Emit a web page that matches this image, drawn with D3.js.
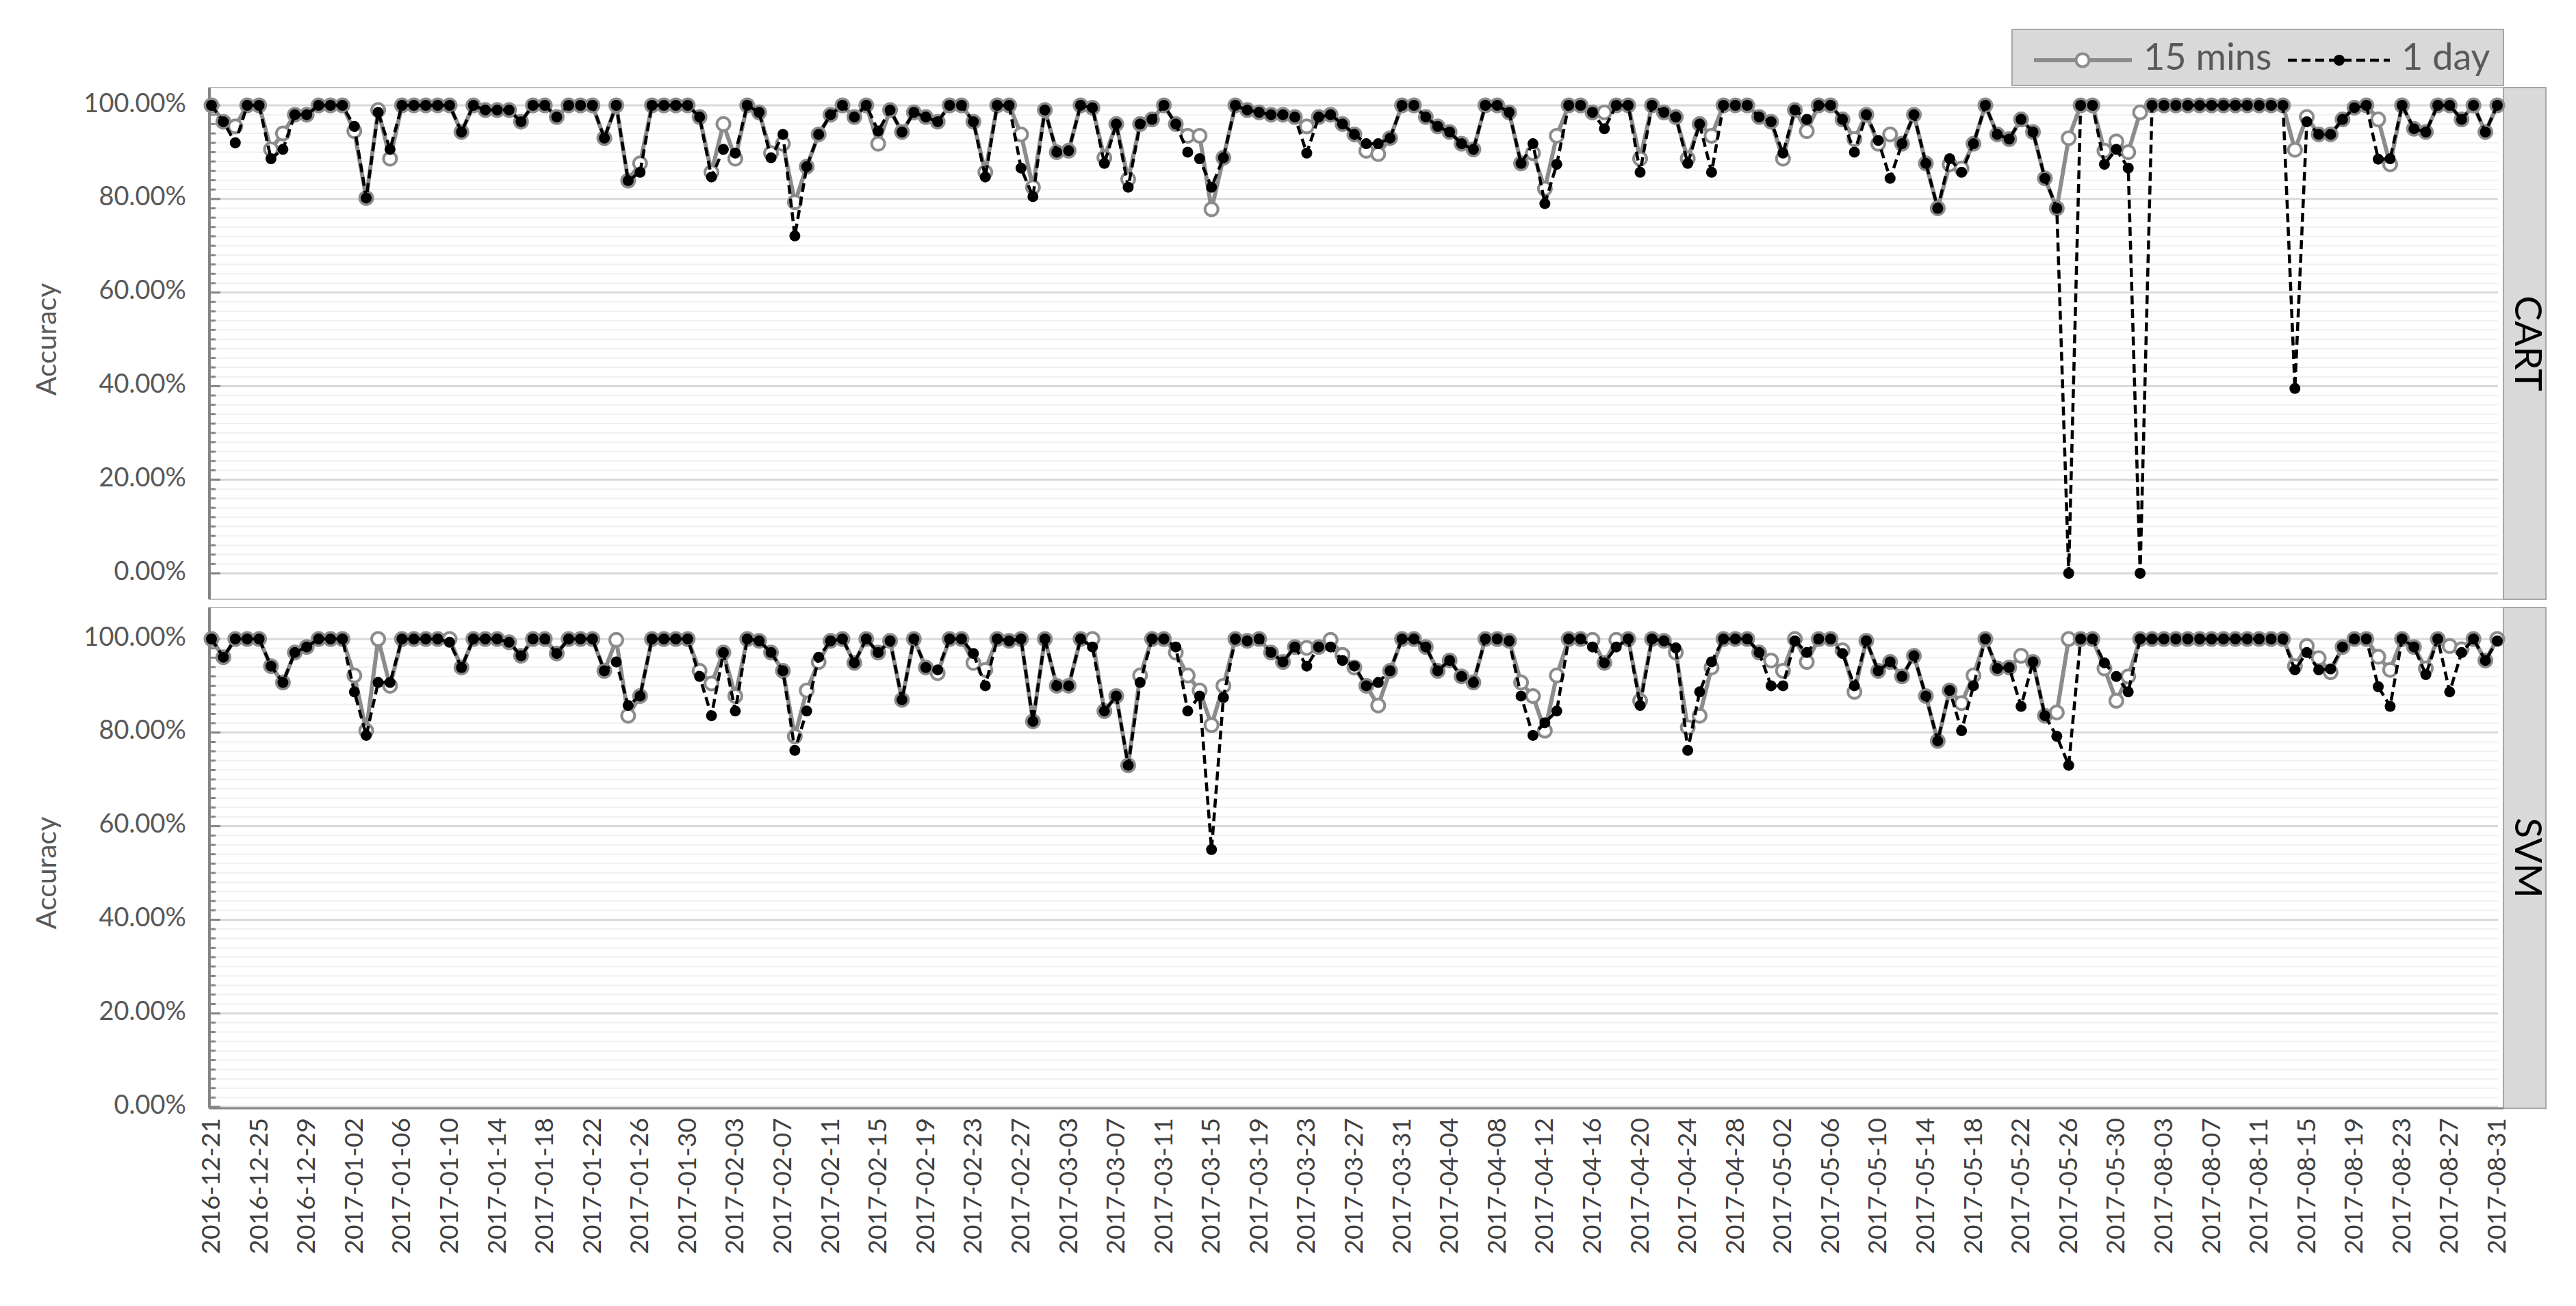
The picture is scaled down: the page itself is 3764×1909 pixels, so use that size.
<!DOCTYPE html>
<html>
<head>
<meta charset="utf-8">
<script src="https://cdn.jsdelivr.net/npm/d3@7"></script>
<style>
  body { margin: 0; background: #fff; }
  text { font-family: Lato, "Open Sans", sans-serif; }
</style>
</head>
<body>
<svg id="chart"></svg>
<script>
// categories: daily, with a gap between June and July
const fmt = d3.timeFormat("%Y-%m-%d");
const dates = d3.timeDay.range(new Date(2016, 11, 21), new Date(2017, 5, 1))
    .concat(d3.timeDay.range(new Date(2017, 7, 1), new Date(2017, 8, 1)))
    .map(fmt);

// accuracy in percent, one value per date
const cart15m = [
    100, 96.5, 95.5, 100, 100, 90.6, 94, 98, 98, 100,
    100, 100, 94.5, 80.2, 99, 88.6, 100, 100, 100, 100,
    100, 94.3, 100, 99, 99, 99, 96.5, 100, 100, 97.5,
    100, 100, 100, 93, 100, 83.9, 87.6, 100, 100, 100,
    100, 97.5, 85.7, 96, 88.6, 100, 98.5, 89.8, 91.8, 79.3,
    86.9, 93.8, 98, 100, 97.5, 100, 91.8, 99, 94.3, 98.5,
    97.5, 96.5, 100, 100, 96.5, 85.7, 100, 100, 93.8, 82.5,
    99, 90, 90.3, 100, 99.5, 88.8, 96, 84.2, 96, 97,
    100, 96, 93.5, 93.5, 77.8, 88.8, 100, 99, 98.5, 98,
    98, 97.5, 95.5, 97.5, 98, 96, 93.8, 90.3, 89.6, 93,
    100, 100, 97.5, 95.5, 94.3, 91.8, 90.6, 100, 100, 98.5,
    87.6, 89.8, 82.2, 93.5, 100, 100, 98.5, 98.5, 100, 100,
    88.6, 100, 98.5, 97.5, 88.6, 96, 93.5, 100, 100, 100,
    97.5, 96.5, 88.6, 99, 94.5, 100, 100, 97, 92.8, 98,
    91.8, 93.8, 91.8, 98, 87.6, 78, 87.4, 86.5, 91.8, 100,
    93.8, 92.8, 97, 94.3, 84.4, 78, 93, 100, 100, 90.3,
    92.3, 90, 98.5, 100, 100, 100, 100, 100, 100, 100,
    100, 100, 100, 100, 100, 90.5, 97.5, 93.8, 93.8, 97,
    99.5, 100, 97, 87.4, 100, 95, 94.3, 100, 100, 97,
    100, 94.3, 100
];
const cart1d = [
    100, 96.5, 92, 100, 100, 88.6, 90.6, 98, 98, 100,
    100, 100, 95.5, 80.2, 98.5, 90.6, 100, 100, 100, 100,
    100, 94.3, 100, 99, 99, 99, 96.5, 100, 100, 97.5,
    100, 100, 100, 93, 100, 83.9, 85.7, 100, 100, 100,
    100, 97.5, 84.7, 90.6, 89.8, 100, 98.5, 88.8, 93.8, 72.1,
    86.9, 93.8, 98, 100, 97.5, 100, 94.5, 99, 94.3, 98.5,
    97.5, 96.5, 100, 100, 96.5, 84.7, 100, 100, 86.6, 80.5,
    99, 90, 90.3, 100, 99.5, 87.6, 96, 82.5, 96, 97,
    100, 96, 90, 88.6, 82.5, 88.8, 100, 99, 98.5, 98,
    98, 97.5, 89.8, 97.5, 98, 96, 93.8, 91.8, 91.8, 93,
    100, 100, 97.5, 95.5, 94.3, 91.8, 90.6, 100, 100, 98.5,
    87.6, 91.8, 79, 87.4, 100, 100, 98.5, 95, 100, 100,
    85.7, 100, 98.5, 97.5, 87.6, 96, 85.7, 100, 100, 100,
    97.5, 96.5, 89.8, 99, 97, 100, 100, 97, 90, 98,
    92.5, 84.4, 91.8, 98, 87.6, 78, 88.6, 85.7, 91.8, 100,
    93.8, 92.8, 97, 94.3, 84.4, 78, 0, 100, 100, 87.4,
    90.6, 86.6, 0, 100, 100, 100, 100, 100, 100, 100,
    100, 100, 100, 100, 100, 39.5, 96.5, 93.8, 93.8, 97,
    99.5, 100, 88.5, 88.6, 100, 95, 94.3, 100, 100, 97,
    100, 94.3, 100
];
const svm15m = [
    100, 96.1, 100, 100, 100, 94.2, 90.7, 97.1, 98.3, 100,
    100, 100, 92.2, 80.4, 100, 90, 100, 100, 100, 100,
    100, 93.9, 100, 100, 100, 99.3, 96.4, 100, 100, 96.9,
    100, 100, 100, 93.2, 99.8, 83.6, 87.8, 100, 100, 100,
    100, 93.2, 90.5, 97.1, 87.8, 100, 99.6, 97.1, 93.2, 79.2,
    89, 95.1, 99.6, 100, 94.9, 100, 97.1, 99.6, 87, 100,
    93.9, 92.7, 100, 100, 94.9, 93.4, 100, 99.6, 100, 82.4,
    100, 90, 90, 100, 100, 84.6, 87.8, 73, 92.2, 100,
    100, 97.1, 92.2, 89, 81.6, 90, 100, 99.6, 100, 97.1,
    95.1, 98.3, 98.1, 98.3, 99.8, 96.6, 93.9, 90, 85.8, 93.2,
    100, 100, 98.3, 93.2, 95.4, 92, 90.7, 100, 100, 99.6,
    90.7, 87.8, 80.4, 92.2, 100, 100, 99.8, 94.9, 99.8, 100,
    86.8, 100, 99.6, 97.1, 81.1, 83.6, 93.9, 100, 100, 100,
    97.1, 95.4, 93.2, 100, 95.1, 100, 100, 97.6, 88.7, 99.6,
    93.2, 95.1, 92, 96.4, 87.8, 78.2, 89, 86.3, 92.2, 100,
    93.7, 93.9, 96.4, 95.1, 83.6, 84.3, 100, 100, 100, 93.7,
    86.8, 92, 100, 100, 100, 100, 100, 100, 100, 100,
    100, 100, 100, 100, 100, 94.2, 98.5, 95.9, 92.9, 98.3,
    100, 100, 96.2, 93.4, 100, 98.3, 93.7, 100, 98.5, 97.8,
    100, 95.4, 100
];
const svm1d = [
    100, 96.1, 100, 100, 100, 94.2, 90.7, 97.1, 98.3, 100,
    100, 100, 88.7, 79.4, 90.7, 90.7, 100, 100, 100, 100,
    99.3, 93.9, 100, 100, 100, 99.3, 96.4, 100, 100, 96.9,
    100, 100, 100, 93.2, 95.1, 85.8, 87.8, 100, 100, 100,
    100, 92, 83.6, 97.1, 84.6, 100, 99.6, 97.1, 93.2, 76.2,
    84.6, 96.1, 99.6, 100, 94.9, 100, 97.1, 99.6, 87, 100,
    93.9, 93.4, 100, 100, 96.9, 90, 100, 99.6, 100, 82.4,
    100, 90, 90, 100, 98.3, 84.6, 87.8, 73, 90.7, 100,
    100, 98.3, 84.6, 87.8, 55, 87.5, 100, 99.6, 100, 97.1,
    95.1, 98.3, 94.2, 98.3, 98.3, 95.4, 94.2, 90, 90.7, 93.2,
    100, 100, 98.3, 93.2, 95.4, 92, 90.7, 100, 100, 99.6,
    87.8, 79.4, 82.1, 84.6, 100, 100, 98.3, 94.9, 98.3, 100,
    85.8, 100, 99.6, 98.1, 76.2, 88.7, 95.1, 100, 100, 100,
    97.1, 90, 90, 99.6, 97.1, 100, 100, 96.9, 90, 99.6,
    93.2, 95.1, 92, 96.4, 87.8, 78.2, 89, 80.4, 90, 100,
    93.7, 93.9, 85.6, 95.1, 83.6, 79.2, 73, 100, 100, 94.9,
    92, 88.7, 100, 100, 100, 100, 100, 100, 100, 100,
    100, 100, 100, 100, 100, 93.4, 97.1, 93.4, 93.6, 98.3,
    100, 100, 89.8, 85.6, 100, 98.3, 92.4, 100, 88.7, 97.1,
    100, 95.4, 99.6
];

const panelNames = ["CART", "SVM"];
const seriesNames = ["15 mins", "1 day"];
const yTicks = [0, 20, 40, 60, 80, 100];

const width = 3764, height = 1909;
const plotLeft = 306, plotRight = 3658;
const stripW = 62;

const svg = d3.select("#chart").attr("width", width).attr("height", height);

const x = d3.scalePoint()
    .domain(dates)
    .range([309, 3649]);

const panels = [
    { name: panelNames[0], s15: cart15m, s1d: cart1d, top: 128, bottom: 876, y0: 838, y100: 154 },
    { name: panelNames[1], s15: svm15m, s1d: svm1d, top: 888, bottom: 1620, y0: 1618, y100: 934 }
];

const grey = "#8c8c8c";
const axisGrey = "#868686";
const textGrey = "#595959";

panels.forEach((p, pi) => {
    const y = d3.scaleLinear().domain([0, 100]).range([p.y0, p.y100]);
    const g = svg.append("g");

    // minor grid every 2%
    g.selectAll(".minor")
        .data(d3.range(0, 101, 2).filter(v => v % 20 !== 0))
        .enter().append("line")
        .attr("x1", plotLeft).attr("x2", plotRight - 8)
        .attr("y1", d => y(d)).attr("y2", d => y(d))
        .attr("stroke", "#f0f0f0").attr("stroke-width", 2);

    // major grid
    g.selectAll(".major")
        .data(yTicks)
        .enter().append("line")
        .attr("x1", plotLeft).attr("x2", plotRight - 8)
        .attr("y1", d => y(d)).attr("y2", d => y(d))
        .attr("stroke", "#d9d9d9").attr("stroke-width", 3);

    // panel frame
    g.append("rect")
        .attr("x", plotLeft).attr("y", p.top)
        .attr("width", plotRight - plotLeft).attr("height", p.bottom - p.top)
        .attr("fill", "none").attr("stroke", "#bfbfbf").attr("stroke-width", 2);

    // y axis line with inside ticks
    g.append("line")
        .attr("x1", plotLeft).attr("x2", plotLeft)
        .attr("y1", p.top).attr("y2", p.bottom)
        .attr("stroke", axisGrey).attr("stroke-width", 4);
    g.selectAll(".tick")
        .data(d3.range(0, 101, 2))
        .enter().append("line")
        .attr("x1", plotLeft).attr("x2", d => plotLeft + (d % 20 === 0 ? 16 : 9))
        .attr("y1", d => y(d)).attr("y2", d => y(d))
        .attr("stroke", axisGrey).attr("stroke-width", 3);

    g.selectAll(".ylab")
        .data(yTicks)
        .enter().append("text")
        .attr("x", 272).attr("y", d => y(d))
        .attr("text-anchor", "end").attr("dominant-baseline", "middle")
        .attr("font-size", 38).attr("fill", textGrey)
        .text(d => d.toFixed(2) + "%");

    g.append("text")
        .attr("transform", `translate(72,${(p.y0 + p.y100) / 2}) rotate(-90)`)
        .attr("text-anchor", "middle").attr("dominant-baseline", "middle")
        .attr("font-size", 41).attr("fill", textGrey)
        .text("Accuracy");

    // strip
    g.append("rect")
        .attr("x", plotRight).attr("y", p.top)
        .attr("width", stripW).attr("height", p.bottom - p.top)
        .attr("fill", "#d9d9d9").attr("stroke", "#a6a6a6").attr("stroke-width", 2);
    g.append("text")
        .attr("transform", `translate(${plotRight + stripW / 2},${(p.top + p.bottom) / 2}) rotate(90)`)
        .attr("text-anchor", "middle").attr("dominant-baseline", "middle")
        .attr("font-size", 55).attr("fill", "#000")
        .text(p.name);

    // series: 15 mins
    const line = d3.line().x((d, i) => x(dates[i])).y(d => y(d));
    g.append("path")
        .attr("d", line(p.s15))
        .attr("fill", "none").attr("stroke", grey).attr("stroke-width", 6)
        .attr("stroke-linejoin", "round");
    g.selectAll(".m15")
        .data(p.s15)
        .enter().append("circle")
        .attr("cx", (d, i) => x(dates[i])).attr("cy", d => y(d))
        .attr("r", 9.5)
        .attr("fill", "#fff").attr("stroke", grey).attr("stroke-width", 4);

    // series: 1 day
    g.append("path")
        .attr("d", line(p.s1d))
        .attr("fill", "none").attr("stroke", "#000").attr("stroke-width", 4.5)
        .attr("stroke-dasharray", "13,7");
    g.selectAll(".m1d")
        .data(p.s1d)
        .enter().append("circle")
        .attr("cx", (d, i) => x(dates[i])).attr("cy", d => y(d))
        .attr("r", 8)
        .attr("fill", "#000");
});

// x axis on the bottom panel
const xAxisY = panels[1].bottom;
svg.append("line")
    .attr("x1", plotLeft).attr("x2", plotRight)
    .attr("y1", xAxisY).attr("y2", xAxisY)
    .attr("stroke", axisGrey).attr("stroke-width", 3);

svg.selectAll(".xlab")
    .data(dates.filter((d, i) => i % 4 === 0))
    .enter().append("text")
    .attr("transform", d => `translate(${x(d) + 12},${xAxisY + 14}) rotate(-90)`)
    .attr("text-anchor", "end")
    .attr("font-size", 37).attr("fill", "#404040")
    .text(d => d);

// legend
const lg = svg.append("g");
lg.append("rect")
    .attr("x", 2940).attr("y", 43).attr("width", 718).attr("height", 82)
    .attr("fill", "#d9d9d9").attr("stroke", "#a6a6a6").attr("stroke-width", 2);
lg.append("line")
    .attr("x1", 2972).attr("x2", 3115).attr("y1", 88).attr("y2", 88)
    .attr("stroke", grey).attr("stroke-width", 6);
lg.append("circle")
    .attr("cx", 3043).attr("cy", 88).attr("r", 9.5)
    .attr("fill", "#fff").attr("stroke", grey).attr("stroke-width", 4);
lg.append("text")
    .attr("x", 3132).attr("y", 88).attr("dominant-baseline", "middle")
    .attr("font-size", 54).attr("fill", textGrey)
    .text(seriesNames[0]);
lg.append("line")
    .attr("x1", 3343).attr("x2", 3492).attr("y1", 88).attr("y2", 88)
    .attr("stroke", "#000").attr("stroke-width", 4.5).attr("stroke-dasharray", "13,7");
lg.append("circle")
    .attr("cx", 3418).attr("cy", 88).attr("r", 8).attr("fill", "#000");
lg.append("text")
    .attr("x", 3509).attr("y", 88).attr("dominant-baseline", "middle")
    .attr("font-size", 54).attr("fill", textGrey)
    .text(seriesNames[1]);
</script>
</body>
</html>
